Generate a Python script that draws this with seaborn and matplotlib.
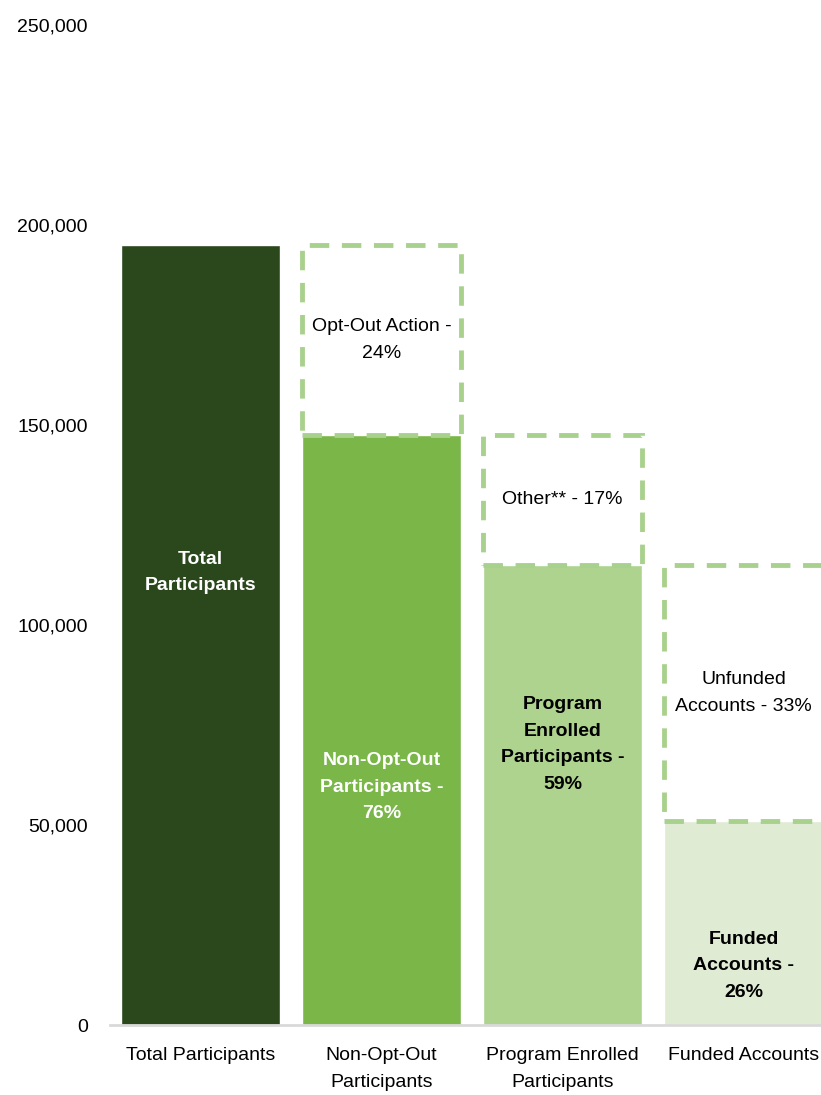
import numpy as np
import pandas as pd
import matplotlib
matplotlib.use('Agg')
import matplotlib.pyplot as plt
import seaborn as sns

# data
categories = ['Total Participants', 'Non-Opt-Out\nParticipants',
              'Program Enrolled\nParticipants', 'Funded Accounts']
bar_values = [195000, 147500, 115000, 51000]
prev_values = [195000, 195000, 147500, 115000]   # top of dashed (dropped) boxes
bar_labels = ['Total\nParticipants', 'Non-Opt-Out\nParticipants -\n76%',
              'Program\nEnrolled\nParticipants -\n59%', 'Funded\nAccounts -\n26%']
drop_labels = [None, 'Opt-Out Action -\n24%', 'Other** - 17%', 'Unfunded\nAccounts - 33%']
bar_colors = ['#2b481d', '#7ab648', '#aed38e', '#dfebd2']
bar_label_colors = ['white', 'white', 'black', 'black']
label_frac = [0.58, 0.403, 0.61, 0.29]
yticks = [0, 50000, 100000, 150000, 200000, 250000]

sns.set_theme(style='white')
plt.rcParams['font.family'] = ['Liberation Sans', 'DejaVu Sans']
fs = 14
ls = 1.75

df = pd.DataFrame({'cat': categories, 'value': bar_values})

fig = plt.figure(figsize=(8.21, 10.95), dpi=100)
ax = fig.add_axes([110 / 821, 70 / 1095, 724 / 821, 1000 / 1095])

sns.barplot(data=df, x='cat', y='value', hue='cat', palette=bar_colors,
            width=0.873, legend=False, ax=ax, saturation=1)

# dashed boxes for the dropped portion
x = np.arange(len(categories))
for i in range(1, len(categories)):
    h = prev_values[i] - bar_values[i]
    ax.bar(x[i], h, bottom=bar_values[i], width=0.873, fill=False,
           edgecolor='#a9d18e', linewidth=3.5, linestyle=(0, (4, 2.6)), zorder=3)
    ax.text(x[i], bar_values[i] + h / 2, drop_labels[i], ha='center', va='center',
            fontsize=fs, color='black', linespacing=ls)

for i in range(len(categories)):
    ax.text(x[i], bar_values[i] * label_frac[i], bar_labels[i], ha='center', va='center',
            fontsize=fs, fontweight='bold', color=bar_label_colors[i], linespacing=ls)

ax.set_ylim(0, 250000)
ax.set_xlim(-0.5, 3.5)
ax.set_yticks(yticks)
ax.set_yticklabels([f'{v:,}' for v in yticks], fontsize=fs, color='black')
ax.tick_params(axis='y', length=0, pad=16)
ax.tick_params(axis='x', length=0, pad=16, labelsize=fs, labelcolor='black')
for t in ax.get_xticklabels():
    t.set_linespacing(ls)
ax.set_xlabel('')
ax.set_ylabel('')
for s in ['top', 'right', 'left']:
    ax.spines[s].set_visible(False)
ax.spines['bottom'].set_color('#d9d9d9')
ax.spines['bottom'].set_linewidth(2)
ax.grid(False)

fig.savefig('out.png', dpi=100)
